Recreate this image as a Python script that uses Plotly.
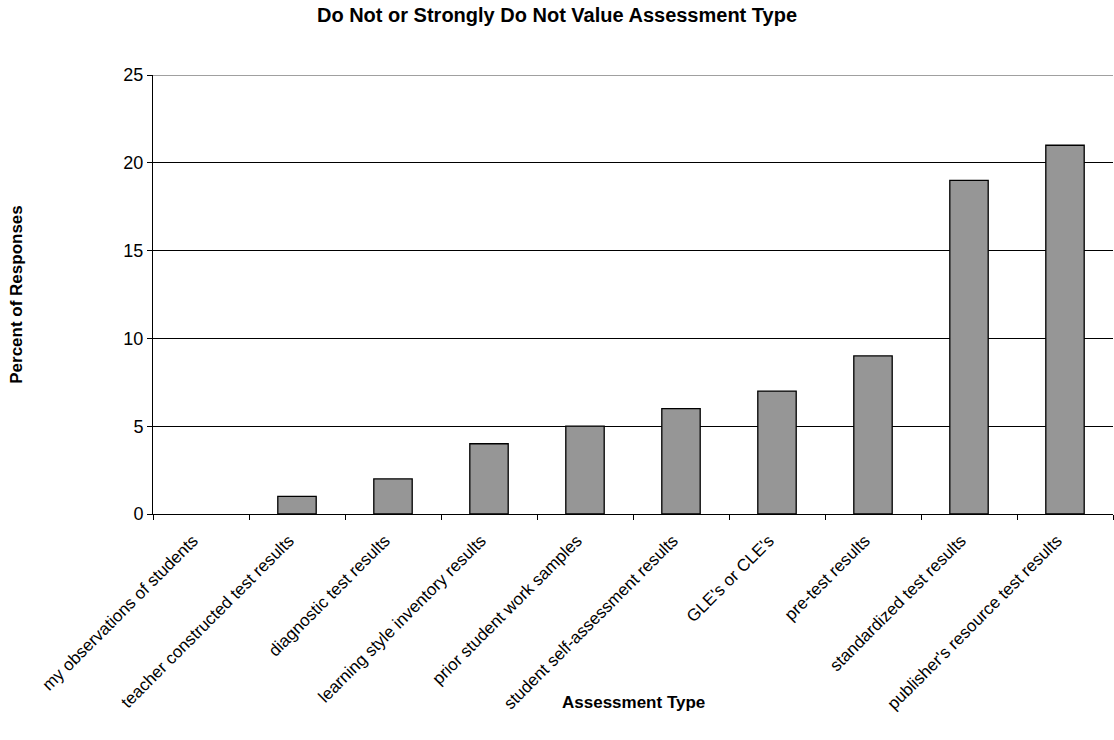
import plotly.graph_objects as go

categories = [
    "my observations of students",
    "teacher constructed test results",
    "diagnostic test results",
    "learning style inventory results",
    "prior student work samples",
    "student self-assessment results",
    "GLE's or CLE's",
    "pre-test results",
    "standardized test results",
    "publisher's resource test results",
]
percent = [0, 1, 2, 4, 5, 6, 7, 9, 19, 21]
y_ticks = [0, 5, 10, 15, 20, 25]
y_max = 25

font_family = "Liberation Sans, Arial, sans-serif"

# zero-height bars get no outline so they don't show as a stray line
outline_widths = [0 if v == 0 else 1.3 for v in percent]

fig = go.Figure(
    go.Bar(
        x=categories,
        y=percent,
        marker=dict(color="#969696", line=dict(color="#000000", width=outline_widths)),
        width=0.4,
    )
)

# top border of the plot area at the axis maximum
fig.add_shape(
    type="line", xref="paper", yref="y",
    x0=0, x1=1, y0=y_max, y1=y_max,
    line=dict(color="#808080", width=1.3),
)

# x-axis title placed as an annotation below the rotated labels
fig.add_annotation(
    text="<b>Assessment Type</b>",
    xref="paper", yref="paper",
    x=0.5, y=-0.4305,
    xanchor="center", yanchor="middle",
    showarrow=False,
    font=dict(size=17, family=font_family, color="black"),
)

fig.update_layout(
    width=1114,
    height=740,
    margin=dict(l=153, r=1, t=75, b=226),
    paper_bgcolor="white",
    plot_bgcolor="white",
    showlegend=False,
    font=dict(family=font_family, size=17, color="black"),
    title=dict(
        text="<b>Do Not or Strongly Do Not Value Assessment Type</b>",
        x=0.5, xanchor="center", xref="container",
        y=1 - 15 / 740, yanchor="middle", yref="container",
        font=dict(size=20, family=font_family, color="black"),
    ),
)

fig.update_xaxes(
    type="category",
    tickangle=-45,
    showgrid=False,
    showline=True,
    linecolor="#000000",
    linewidth=1,
    ticks="outside",
    ticklen=5,
    tickcolor="#000000",
    tickson="boundaries",
    ticklabelstandoff=9,
    ticklabelshift=-8,
    tickfont=dict(size=17, family=font_family, color="black"),
)
fig.update_yaxes(
    range=[0, y_max],
    tickvals=y_ticks,
    showgrid=True,
    gridcolor="#000000",
    gridwidth=1,
    showline=True,
    linecolor="#000000",
    linewidth=1,
    ticks="outside",
    ticklen=5,
    tickcolor="#000000",
    zeroline=False,
    tickfont=dict(size=18, family=font_family, color="black"),
    title=dict(text="<b>Percent of Responses</b>", font=dict(size=17, family=font_family), standoff=96),
)

fig.write_html("out.html")
